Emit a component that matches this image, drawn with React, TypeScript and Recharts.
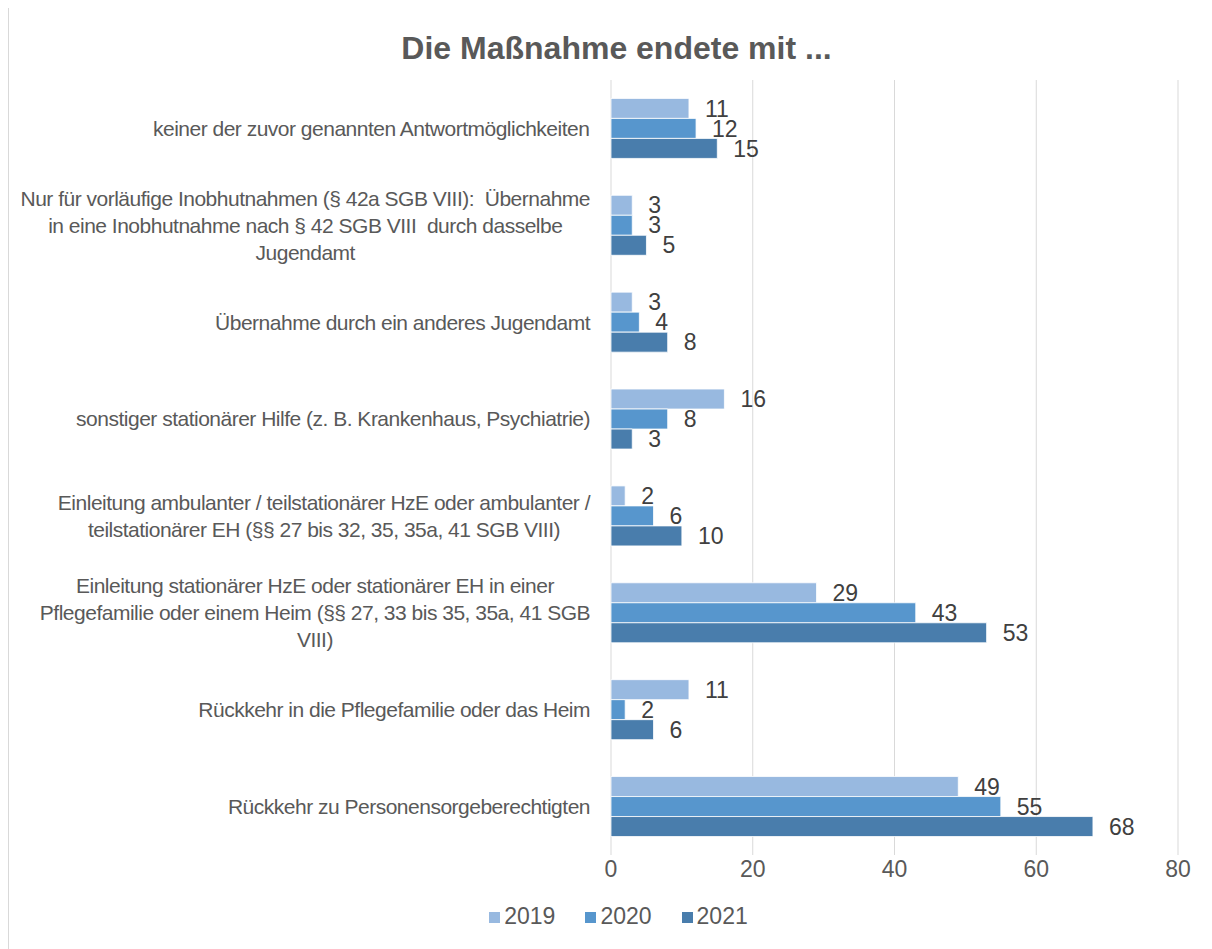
import { BarChart, Bar, XAxis, YAxis, CartesianGrid, Legend, LabelList } from 'recharts';

// Kategorien (Zeilenumbrüche wie im Original)
const categories = [
  'keiner der zuvor genannten Antwortmöglichkeiten',
  'Nur für vorläufige Inobhutnahmen (§ 42a SGB VIII):  Übernahme\nin eine Inobhutnahme nach § 42 SGB VIII  durch dasselbe\nJugendamt',
  'Übernahme durch ein anderes Jugendamt',
  'sonstiger stationärer Hilfe (z. B. Krankenhaus, Psychiatrie)',
  'Einleitung ambulanter / teilstationärer HzE oder ambulanter /\nteilstationärer EH (§§ 27 bis 32, 35, 35a, 41 SGB VIII)',
  'Einleitung stationärer HzE oder stationärer EH in einer\nPflegefamilie oder einem Heim (§§ 27, 33 bis 35, 35a, 41 SGB\nVIII)',
  'Rückkehr in die Pflegefamilie oder das Heim',
  'Rückkehr zu Personensorgeberechtigten',
];

const values2019 = [11, 3, 3, 16, 2, 29, 11, 49];
const values2020 = [12, 3, 4, 8, 6, 43, 2, 55];
const values2021 = [15, 5, 8, 3, 10, 53, 6, 68];

const xTicks = [0, 20, 40, 60, 80];

const data = categories.map((name, i) => ({
  name,
  y2019: values2019[i],
  y2020: values2020[i],
  y2021: values2021[i],
}));

const FONT = '"Liberation Sans", Arial, sans-serif';
const LABEL_SIZE = 21;
const LABEL_SPACING = -0.5;
const LINE_H = 27;

let ctx: CanvasRenderingContext2D | null = null;
function textWidth(s: string) {
  if (!ctx) ctx = document.createElement('canvas').getContext('2d');
  if (!ctx) return s.length * LABEL_SIZE * 0.5;
  ctx.font = `${LABEL_SIZE}px ${FONT}`;
  return ctx.measureText(s).width + LABEL_SPACING * s.length;
}

// Excel-artige Beschriftung: Block rechtsbündig, Zeilen zentriert
function CategoryTick(props: any) {
  const { x, y, payload } = props;
  const lines: string[] = String(payload.value).split('\n');
  const w = Math.max(...lines.map(textWidth));
  const cx = x - w / 2;
  const startY = y - ((lines.length - 1) * LINE_H) / 2;
  return (
    <text
      x={cx}
      y={startY}
      textAnchor="middle"
      fill="#595959"
      fontSize={LABEL_SIZE}
      fontFamily={FONT}
      letterSpacing={LABEL_SPACING}
    >
      {lines.map((l, i) => (
        <tspan key={i} x={cx} y={startY + i * LINE_H} dy="0.35em" style={{ whiteSpace: 'pre' }}>
          {l}
        </tspan>
      ))}
    </text>
  );
}

const labelStyle = { fill: '#404040', fontSize: 23, fontFamily: FONT };

export default function App() {
  return (
    <div
      style={{
        position: 'relative',
        width: 1205,
        height: 943,
        marginTop: -2,
        marginLeft: -1,
        borderTop: '2px solid #d9d9d9',
        borderLeft: '2px solid #d9d9d9',
        boxSizing: 'border-box',
        fontFamily: FONT,
      }}
    >
      <div
        style={{
          position: 'absolute',
          left: 6,
          top: 22,
          width: 1203,
          textAlign: 'center',
          fontSize: 32,
          lineHeight: '36px',
          fontWeight: 'bold',
          color: '#595959',
        }}
      >
        Die Maßnahme endete mit ...
      </div>
      <BarChart
        width={1203}
        height={941}
        data={data}
        layout="vertical"
        margin={{ top: 72, right: 34, left: 0, bottom: 19 }}
        barCategoryGap="19%"
        barGap={0}
      >
        <CartesianGrid horizontal={false} stroke="#d9d9d9" />
        <XAxis
          type="number"
          domain={[0, 80]}
          ticks={xTicks}
          axisLine={false}
          tickLine={false}
          tickSize={0}
          tickMargin={6}
          height={48}
          tick={{ fill: '#595959', fontSize: 23, fontFamily: FONT }}
        />
        <YAxis
          type="category"
          dataKey="name"
          width={602}
          axisLine={false}
          tickLine={false}
          tickSize={0}
          tickMargin={21}
          interval={0}
          tick={<CategoryTick />}
        />
        <Legend
          verticalAlign="bottom"
          iconType="square"
          iconSize={11}
          wrapperStyle={{ fontSize: 23, fontFamily: FONT, paddingLeft: 40 }}
          formatter={(value: string) => (
            <span style={{ color: '#595959', marginRight: 20 }}>{value}</span>
          )}
        />
        <Bar dataKey="y2019" name="2019" fill="#98b9e0" stroke="#ffffff" strokeWidth={0.8} isAnimationActive={false}>
          <LabelList dataKey="y2019" position="right" offset={16} style={labelStyle} />
        </Bar>
        <Bar dataKey="y2020" name="2020" fill="#5796cd" stroke="#ffffff" strokeWidth={0.8} isAnimationActive={false}>
          <LabelList dataKey="y2020" position="right" offset={16} style={labelStyle} />
        </Bar>
        <Bar dataKey="y2021" name="2021" fill="#497dac" stroke="#ffffff" strokeWidth={0.8} isAnimationActive={false}>
          <LabelList dataKey="y2021" position="right" offset={16} style={labelStyle} />
        </Bar>
      </BarChart>
    </div>
  );
}
